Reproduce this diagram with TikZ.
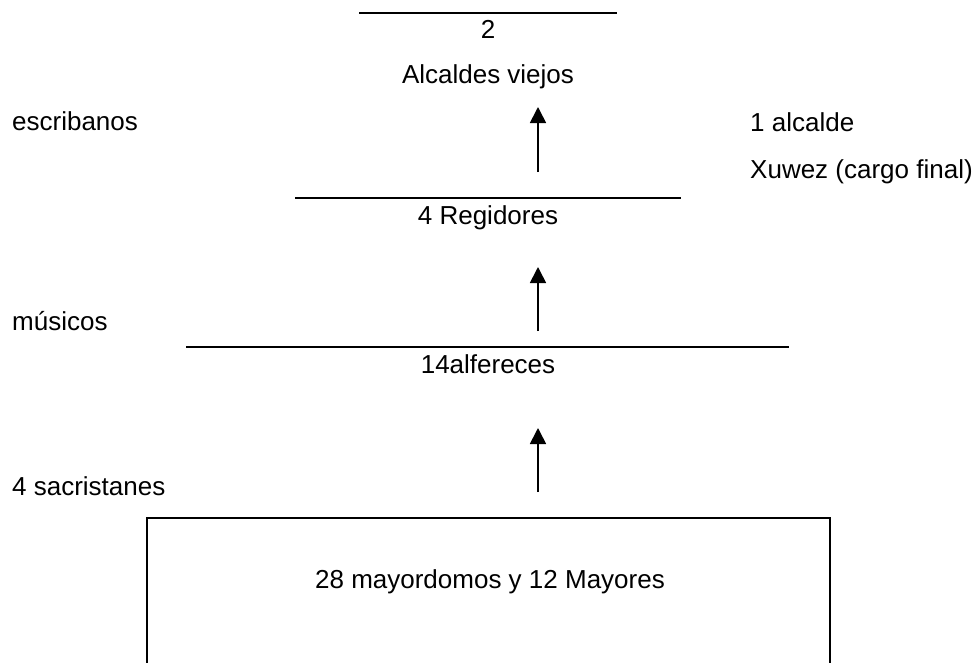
\documentclass[tikz,border=0pt]{standalone}
\usepackage{fontspec}
\setmainfont{Liberation Sans}
\usetikzlibrary{arrows.meta}
\begin{document}
\begin{tikzpicture}[x=1pt,y=-1pt,
  txt/.style={inner sep=0pt,font=\fontsize{26}{31}\selectfont},
  rule/.style={line width=2pt},
  up/.style={line width=1.7pt,-{Triangle[length=16pt,width=16pt]}},
  boxstyle/.style={draw,line width=2pt,inner sep=0pt,anchor=north west,
    minimum width=683pt,minimum height=220pt}]
\useasboundingbox (0,0) rectangle (978,662);
\clip (0,0) rectangle (978,662);
% horizontal rules
\coordinate (r1a) at (359,12.7); \coordinate (r1b) at (617,12.7);
\coordinate (r2a) at (295,198); \coordinate (r2b) at (681,198);
\coordinate (r3a) at (186,347); \coordinate (r3b) at (789,347);
\draw[rule] (r1a) -- (r1b);
\draw[rule] (r2a) -- (r2b);
\draw[rule] (r3a) -- (r3b);
% centred texts
\node[txt,anchor=base] (two) at (488,38) {2};
\node[txt,anchor=base] (alc) at (488,83) {Alcaldes viejos};
\node[txt,anchor=base] (reg) at (488,224) {4 Regidores};
\node[txt,anchor=base] (alf) at (488,373) {14alfereces};
% left texts
\node[txt,anchor=base west] (esc) at (12,130) {escribanos};
\node[txt,anchor=base west] (mus) at (12,330) {músicos};
\node[txt,anchor=base west] (sac) at (12,495) {4 sacristanes};
% right texts
\node[txt,anchor=base west] (one) at (750,131) {1 alcalde};
\node[txt,anchor=base west] (xuw) at (750,178) {Xuwez (cargo final)};
% bottom box
\node[boxstyle] (box) at (146,517) {};
\node[txt,anchor=base] (may) at (490,588) {28 mayordomos y 12 Mayores};
% arrows
\coordinate (a1s) at (538,172); \coordinate (a1e) at (538,107);
\coordinate (a2s) at (538,331); \coordinate (a2e) at (538,267);
\coordinate (a3s) at (538,492); \coordinate (a3e) at (538,428);
\draw[up] (a1s) -- (a1e);
\draw[up] (a2s) -- (a2e);
\draw[up] (a3s) -- (a3e);
\end{tikzpicture}
\end{document}
